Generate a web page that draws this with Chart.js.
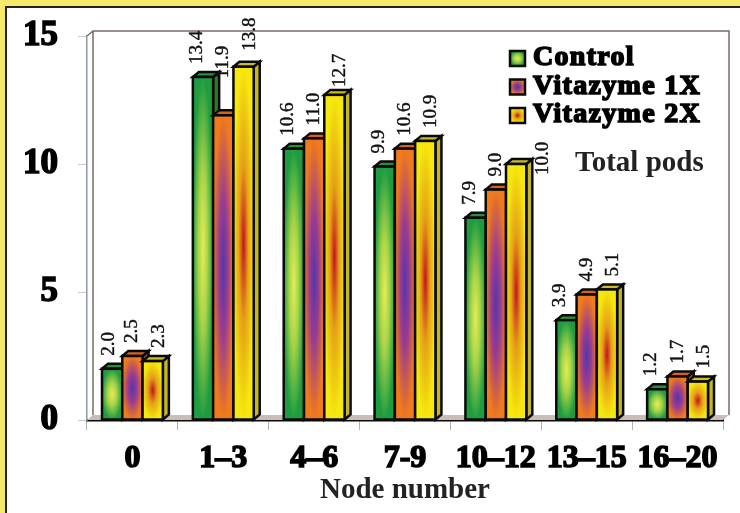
<!DOCTYPE html>
<html>
<head>
<meta charset="utf-8">
<script src="https://cdn.jsdelivr.net/npm/chart.js@4"></script>
<style>
    html, body { margin: 0; padding: 0; background: #f6e96c; overflow: hidden; }
    #frame { position: absolute; left: 5px; top: 6px; width: 740px; height: 513px; background: #fff; border-left: 2px solid #222; border-top: 2px solid #222; }
    #c { position: absolute; left: 0; top: 0; }
</style>
</head>
<body>
<div id="frame"></div>
<canvas id="c" width="740" height="513"></canvas>
<script>
var categories = ['0', '1–3', '4–6', '7-9', '10–12', '13–15', '16–20'];
var control = [2.0, 13.4, 10.6, 9.9, 7.9, 3.9, 1.2];
var vitazyme1x = [2.5, 11.9, 11.0, 10.6, 9.0, 4.9, 1.7];
var vitazyme2x = [2.3, 13.8, 12.7, 10.9, 10.0, 5.1, 1.5];
var seriesNames = ['Control', 'Vitazyme 1X', 'Vitazyme 2X'];
var yTicks = [0, 5, 10, 15];

// edge colour, in-between colour, centre colour, top face, side face
var barStyles = [
    { edge: '#1f9c40', between: '#a8d448', mid: '#e4ec58', top: '#2c8c38', side: '#2f7a30' },
    { edge: '#f07a1c', between: '#9a3c90', mid: '#5238a8', top: '#d4641a', side: '#a8521c' },
    { edge: '#f6e80e', between: '#e4a018', mid: '#c4141e', top: '#cdbd24', side: '#c4b822' }
];
var depthX = 6, depthY = 5;
var labelShift = [-6, 0, 6];
// labels the original moved by hand: 'series,category': [dx, dy]
var labelNudge = { '0,0': [3, 0], '1,1': [0, -24], '2,1': [0, -3], '2,4': [21, 24], '2,2': [0, 5] };
var serif = "'Liberation Serif', serif";

function paintFace(ctx, x, y, w, h, st) {
    ctx.save();
    ctx.beginPath();
    ctx.rect(x, y, w, h);
    ctx.clip();
    ctx.translate(x + w / 2, y + h / 2);
    ctx.scale(w / 2, h / 2);
    var g = ctx.createRadialGradient(0, 0, 0, 0, 0, 1);
    g.addColorStop(0, st.mid);
    g.addColorStop(0.45, st.between);
    g.addColorStop(1, st.edge);
    ctx.fillStyle = g;
    ctx.fillRect(-1, -1, 2, 2);
    ctx.restore();
}

function poly(ctx, pts, fill) {
    ctx.beginPath();
    pts.forEach(function (p, i) { if (i) ctx.lineTo(p[0], p[1]); else ctx.moveTo(p[0], p[1]); });
    ctx.closePath();
    ctx.fillStyle = fill;
    ctx.fill();
    ctx.stroke();
}

var wallPlugin = {
    id: 'wall',
    beforeDatasetsDraw: function (chart) {
        var ctx = chart.ctx, a = chart.chartArea;
        ctx.save();
        ctx.lineWidth = 1.5;
        ctx.strokeStyle = '#7a6a68';
        ctx.fillStyle = '#c9bdb9';
        ctx.beginPath();
        ctx.moveTo(a.left, a.bottom);
        ctx.lineTo(a.left + depthX, a.bottom - depthY);
        ctx.lineTo(a.right + depthX, a.bottom - depthY);
        ctx.lineTo(a.right, a.bottom);
        ctx.closePath();
        ctx.fill();
        ctx.beginPath();
        ctx.moveTo(a.left, a.top);
        ctx.lineTo(a.left + depthX, a.top - depthY);
        ctx.lineTo(a.right + depthX, a.top - depthY);
        ctx.lineTo(a.right + depthX, a.bottom - depthY);
        ctx.moveTo(a.left + depthX, a.top - depthY);
        ctx.lineTo(a.left + depthX, a.bottom - depthY);
        ctx.stroke();
        ctx.restore();
    }
};

var bars3dPlugin = {
    id: 'bars3d',
    afterDatasetsDraw: function (chart) {
        var ctx = chart.ctx;
        ctx.save();
        ctx.strokeStyle = '#0a0a0a';
        ctx.lineWidth = 2.5;
        ctx.lineJoin = 'miter';
        categories.forEach(function (cat, j) {
            chart.data.datasets.forEach(function (ds, i) {
                var el = chart.getDatasetMeta(i).data[j];
                var st = barStyles[i];
                var x = el.x - el.width / 2, w = el.width;
                var y = el.y, h = el.base - el.y;
                poly(ctx, [[x + w, y], [x + w + depthX, y - depthY], [x + w + depthX, y + h - depthY], [x + w, y + h]], st.side);
                poly(ctx, [[x, y], [x + depthX, y - depthY], [x + w + depthX, y - depthY], [x + w, y]], st.top);
                paintFace(ctx, x, y, w, h, st);
                ctx.strokeRect(x, y, w, h);
            });
        });
        ctx.restore();

        // value labels, turned on their side
        ctx.save();
        ctx.fillStyle = '#111';
        ctx.strokeStyle = '#111';
        ctx.lineWidth = 0.4;
        ctx.font = '19px ' + serif;
        ctx.textAlign = 'left';
        ctx.textBaseline = 'middle';
        chart.data.datasets.forEach(function (ds, i) {
            ds.data.forEach(function (v, j) {
                var el = chart.getDatasetMeta(i).data[j];
                var n = labelNudge[i + ',' + j] || [0, 0];
                ctx.save();
                ctx.translate(el.x + labelShift[i] + n[0], el.y - depthY - 8 + n[1]);
                ctx.rotate(-Math.PI / 2);
                ctx.fillText(v.toFixed(1), 0, 0);
                ctx.strokeText(v.toFixed(1), 0, 0);
                ctx.restore();
            });
        });
        ctx.restore();

        // legend and the panel caption
        ctx.save();
        ctx.font = 'bold 28px ' + serif;
        ctx.letterSpacing = '1.3px';
        ctx.textBaseline = 'middle';
        ctx.textAlign = 'left';
        seriesNames.forEach(function (name, i) {
            var sy = 58 + i * 28.5;
            paintFace(ctx, 510, sy - 7, 15, 15, barStyles[i]);
            ctx.strokeStyle = '#0a0a0a';
            ctx.lineWidth = 2.5;
            ctx.strokeRect(510, sy - 7, 15, 15);
            ctx.fillStyle = '#000';
            ctx.strokeStyle = '#000';
            ctx.lineWidth = 1.6;
            ctx.fillText(name, 533, sy);
            ctx.strokeText(name, 533, sy);
        });
        ctx.letterSpacing = '0px';
        ctx.fillStyle = '#222';
        ctx.font = 'bold 29px ' + serif;
        ctx.fillText('Total pods', 575, 164);
        ctx.restore();
    }
};

new Chart(document.getElementById('c').getContext('2d'), {
    type: 'bar',
    data: {
        labels: categories,
        datasets: [
            { label: seriesNames[0], data: control, backgroundColor: 'transparent' },
            { label: seriesNames[1], data: vitazyme1x, backgroundColor: 'transparent' },
            { label: seriesNames[2], data: vitazyme2x, backgroundColor: 'transparent' }
        ]
    },
    plugins: [wallPlugin, bars3dPlugin],
    options: {
        responsive: false,
        animation: false,
        layout: { padding: { top: 36, right: 17, left: 0, bottom: 0 } },
        plugins: { legend: { display: false }, tooltip: { enabled: false } },
        datasets: { bar: { categoryPercentage: 0.67, barPercentage: 1 } },
        scales: {
            x: {
                afterFit: function (s) { s.height = 93; },
                border: { color: '#0a0a0a', width: 2.5 },
                grid: { drawOnChartArea: false, drawTicks: true, tickLength: 10, color: '#a9b6bc' },
                ticks: {
                    color: '#000', padding: 10, maxRotation: 0, autoSkip: false,
                    font: { family: serif, weight: 'bold', size: 32 },
                    textStrokeColor: '#000', textStrokeWidth: 1.6
                },
                title: {
                    display: true, text: 'Node number', color: '#222',
                    font: { family: serif, weight: 'bold', size: 29 },
                    padding: { top: 0, bottom: 5 }
                }
            },
            y: {
                min: 0, max: 15,
                afterFit: function (s) { s.width = 87; s.paddingTop = 0; s.paddingBottom = 0; },
                afterBuildTicks: function (s) { s.ticks = yTicks.map(function (v) { return { value: v }; }); },
                border: { color: '#8a9aa2', width: 1.5 },
                grid: { drawOnChartArea: false, drawTicks: true, tickLength: 9, color: '#c4ced2' },
                ticks: {
                    color: '#000', padding: 20,
                    font: { family: serif, weight: 'bold', size: 35 },
                    textStrokeColor: '#000', textStrokeWidth: 1.6
                }
            }
        }
    }
});
</script>
</body>
</html>
